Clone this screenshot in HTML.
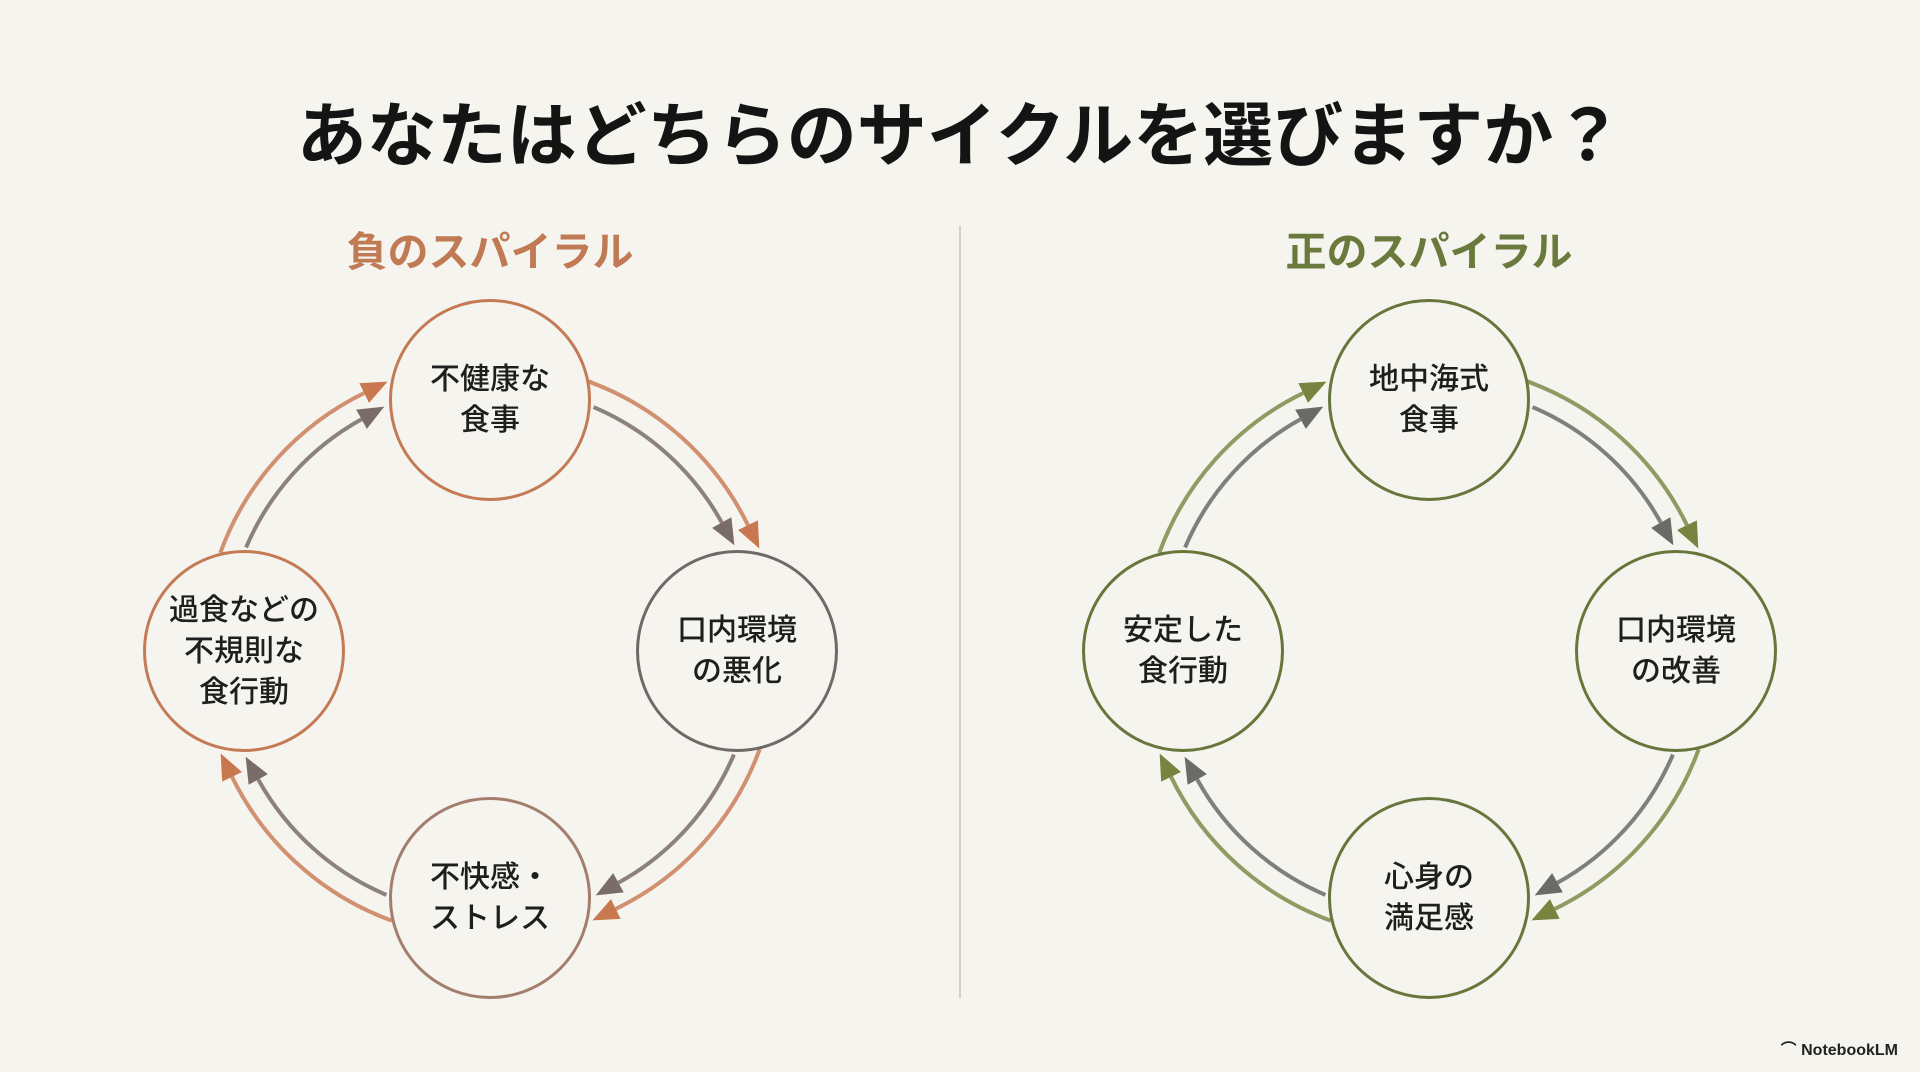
<!DOCTYPE html>
<html><head><meta charset="utf-8">
<style>
html,body{margin:0;padding:0}
body{width:1920px;height:1072px;background:#f5f4ef;position:relative;overflow:hidden;font-family:"Liberation Sans","Noto Sans CJK JP",sans-serif;}
.t{position:absolute;white-space:nowrap;font-weight:bold;text-align:center}
.c{position:absolute;width:202px;height:202px;border-radius:50%;box-sizing:border-box;border:3px solid;display:flex;align-items:center;justify-content:center;text-align:center;font-size:30px;line-height:41px;color:#1e1e1e;font-family:"Liberation Sans","Noto Sans CJK JP",sans-serif;font-weight:500}
</style></head><body>
<div class="t" style="left:0;width:1920px;top:80px;font-size:70px;color:#141414;">あなたはどちらのサイクルを選びますか？</div>
<div class="t" style="left:290px;width:400px;top:218px;font-size:41px;color:#c07b55;">負のスパイラル</div>
<div class="t" style="left:1229px;width:400px;top:218px;font-size:41px;color:#6a7a3c;">正のスパイラル</div>
<div style="position:absolute;left:959px;top:226px;width:2px;height:772px;background:#d3d0ca"></div>
<svg id="s" width="1920" height="1072" style="position:absolute;left:0;top:0"></svg>

<div class="c" style="left:389px;top:299px;border-color:#c47a55">不健康な<br>食事</div>
<div class="c" style="left:636px;top:550px;border-color:#6f6a66">口内環境<br>の悪化</div>
<div class="c" style="left:389px;top:797px;border-color:#a37e6e">不快感・<br>ストレス</div>
<div class="c" style="left:143px;top:550px;border-color:#c47a55">過食などの<br>不規則な<br>食行動</div>

<div class="c" style="left:1328px;top:299px;border-color:#67763a">地中海式<br>食事</div>
<div class="c" style="left:1575px;top:550px;border-color:#67763a">口内環境<br>の改善</div>
<div class="c" style="left:1328px;top:797px;border-color:#67763a">心身の<br>満足感</div>
<div class="c" style="left:1082px;top:550px;border-color:#67763a">安定した<br>食行動</div>

<div style="position:absolute;right:22px;bottom:12px;font-size:16px;color:#222;font-weight:bold">⌒ NotebookLM</div>
<script>
const svg=document.getElementById('s');
let h='';
function arc(cx,cy,r,a0,a1,col,w,op){
  const p=a=>[cx+r*Math.cos(a*Math.PI/180),cy+r*Math.sin(a*Math.PI/180)];
  const [x0,y0]=p(a0),[x1,y1]=p(a1);
  h+=`<path d="M${x0} ${y0} A${r} ${r} 0 0 1 ${x1} ${y1}" fill="none" stroke="${col}" stroke-width="4" opacity="${op}"/>`;
  const a=a1*Math.PI/180, tx=-Math.sin(a), ty=Math.cos(a);
  const nx=Math.cos(a), ny=Math.sin(a);
  const L=26,W=11;
  const ex=x1+tx*L, ey=y1+ty*L;
  h+=`<polygon points="${ex},${ey} ${x1+nx*W},${y1+ny*W} ${x1-nx*W},${y1-ny*W}" fill="${col}"/>`;
}
function cyc(cx,cy,inner,outer){
  for(let q=0;q<4;q++){
    const b=q*90-90;
    arc(cx,cy,265,b+23,b+61,inner,4,0.85);
    arc(cx,cy,287,b+20,b+64,outer,4,0.8);
  }
}
cyc(490,651,'#7a6c66','#c8774f');
cyc(1429,651,'#6a6a66','#76843f');
svg.innerHTML=h;
</script>
</body></html>
